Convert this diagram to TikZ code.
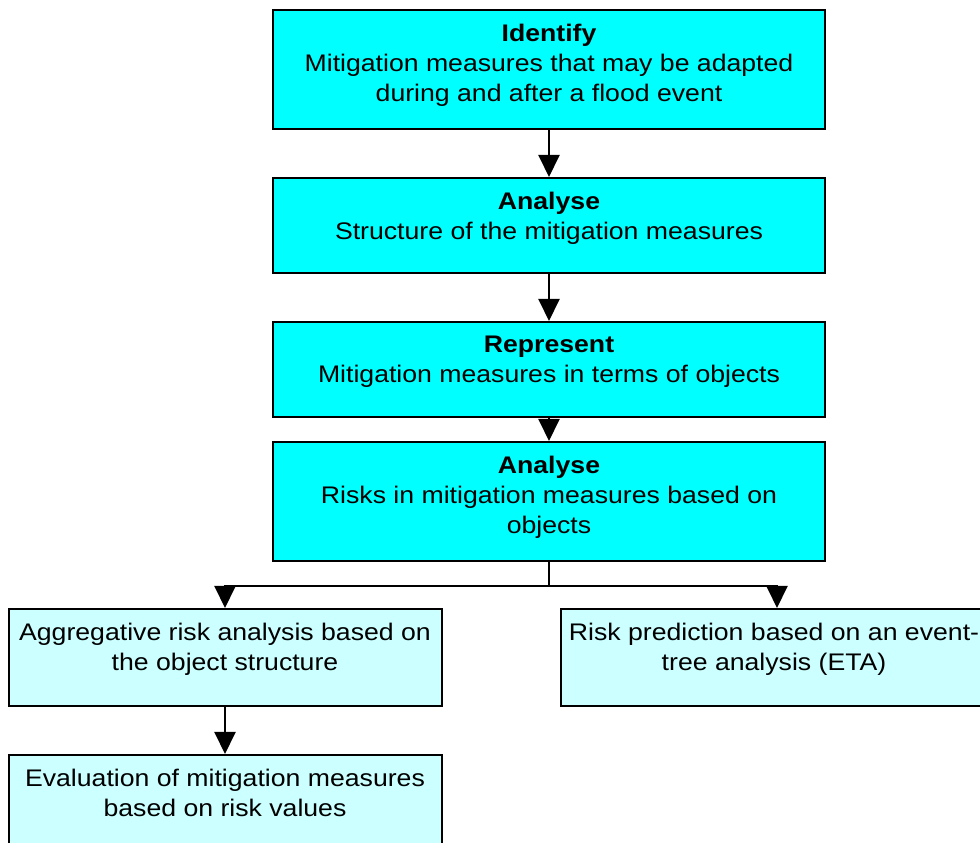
\documentclass[tikz,border=0pt]{standalone}
\usepackage{fontspec}
\setmainfont[FakeStretch=1.11]{Liberation Sans}
\usetikzlibrary{arrows.meta}
\begin{document}
\begin{tikzpicture}[x=1pt,y=1pt,
  stagebox/.style={draw=black, line width=2pt, fill=stagecyan, minimum width=552pt, inner sep=0pt},
  resultbox/.style={draw=black, line width=2pt, fill=resultcyan, minimum width=433pt, minimum height=97pt, inner sep=0pt},
  boxtext/.style={anchor=north, yshift=-15pt, align=center, inner sep=0pt, font=\fontsize{24}{30}\selectfont},
  flow/.style={line width=2pt, -{Triangle[length=22pt,width=21pt]}},
  plain/.style={line width=2pt}
]
\definecolor{stagecyan}{HTML}{00FFFF}
\definecolor{resultcyan}{HTML}{CCFFFF}
\useasboundingbox (0,0) rectangle (980,843);

% main chain of stages
\node[stagebox, minimum height=119pt] (b1) at (549,773.5) {};
\node[stagebox, minimum height=95pt]  (b2) at (549,617.5) {};
\node[stagebox, minimum height=95pt]  (b3) at (549,473.5) {};
\node[stagebox, minimum height=119pt] (b4) at (549,341.5) {};

\node[boxtext] (t1) at (b1.north) {\textbf{Identify}\\Mitigation measures that may be adapted\\during and after a flood event};
\node[boxtext] (t2) at (b2.north) {\textbf{Analyse}\\Structure of the mitigation measures};
\node[boxtext] (t3) at (b3.north) {\textbf{Represent}\\Mitigation measures in terms of objects};
\node[boxtext] (t4) at (b4.north) {\textbf{Analyse}\\Risks in mitigation measures based on\\objects};

% results
\node[resultbox] (bl) at (225,185.5) {};
\node[resultbox] (br) at (777,185.5) {};
\node[resultbox] (be) at (225,39.5) {};

\node[boxtext] (tl) at (bl.north) {Aggregative risk analysis based on\\the object structure};
\node[boxtext, xshift=-3pt] (tr) at (br.north) {Risk prediction based on an event-\\tree analysis (ETA)};
\node[boxtext] (te) at (be.north) {Evaluation of mitigation measures\\based on risk values};

% connectors
\draw[flow] (b1.south) -- (b2.north);
\draw[flow] (b2.south) -- (b3.north);
\draw[flow] (b3.south) -- (b4.north);
\coordinate (split) at (549,257);
\draw[plain] (b4.south) -- (split);
\draw[flow] (split) -| (bl.north);
\draw[flow] (split) -| (br.north);
\draw[flow] (bl.south) -- (be.north);
\end{tikzpicture}
\end{document}
